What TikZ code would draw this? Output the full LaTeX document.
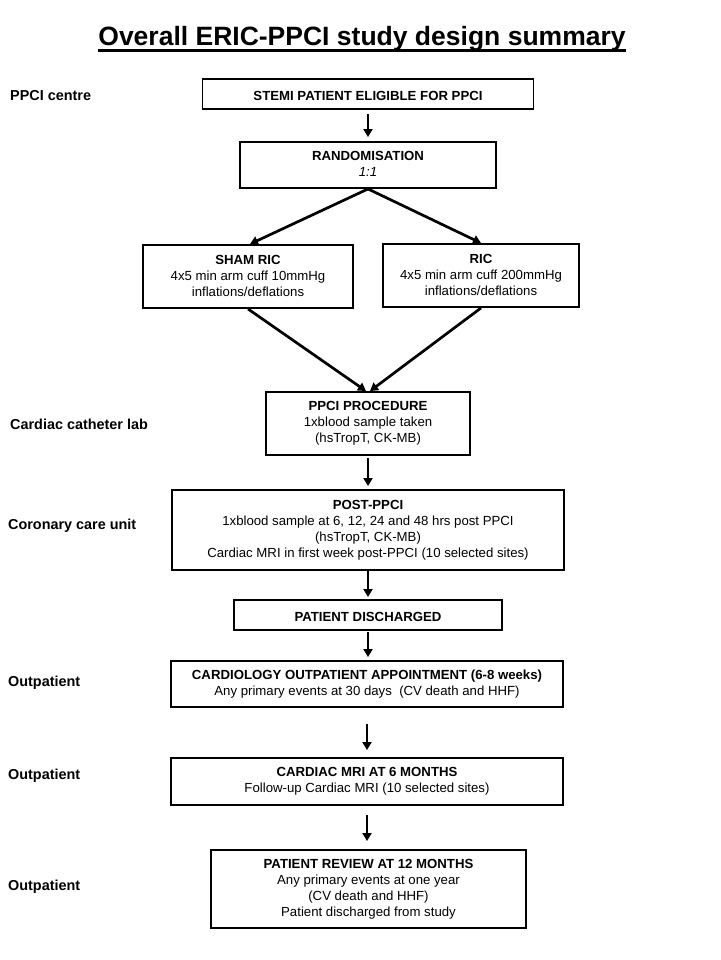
\documentclass[tikz,border=0pt]{standalone}
\usepackage{fontspec}
\setmainfont{Liberation Sans}
\usetikzlibrary{arrows.meta}
\begin{document}
\begin{tikzpicture}[x=1pt,y=-1pt,
  box/.style={draw, line width=1.9pt, align=center, inner sep=0pt,
    font=\fontsize{13.2}{16}\selectfont,
    execute at begin node={\rule{0pt}{14.5pt}},
    execute at end node={\rule[-1.5pt]{0pt}{1.5pt}}},
  arr/.style={line width=2.7pt, -{Triangle[length=8pt,width=9pt]}},
  side/.style={anchor=west, inner sep=0pt, font=\fontsize{14.4}{17}\selectfont\bfseries}]
\useasboundingbox[fill=white] (0,0) rectangle (720,960);

% title
\node[anchor=base, inner sep=0pt, font=\fontsize{26.5}{30}\selectfont\bfseries] (title) at (362,45.5)
  {Overall ERIC-PPCI study design summary};
\draw[line width=2.2pt] ([yshift=-5pt]title.base west) -- ([yshift=-5pt]title.base east);

% boxes
\node[box, minimum width=331, minimum height=30] (stemi) at (368,94) {\textbf{STEMI PATIENT ELIGIBLE FOR PPCI}};
\node[box, minimum width=256, minimum height=46] (rand) at (368,165) {\textbf{RANDOMISATION}\\\textit{1:1}};
\node[box, minimum width=210, minimum height=63] (sham) at (248,276.5)
  {\textbf{SHAM RIC}\\4x5 min arm cuff 10mmHg\\inflations/deflations};
\node[box, minimum width=196, minimum height=63] (ric) at (481,275.5)
  {\textbf{RIC}\\4x5 min arm cuff 200mmHg\\inflations/deflations};
\node[box, minimum width=204, minimum height=63] (ppci) at (368,423.5)
  {\textbf{PPCI PROCEDURE}\\1xblood sample taken\\(hsTropT, CK-MB)};
\node[box, minimum width=392, minimum height=80] (post) at (368,530)
  {\textbf{POST-PPCI}\\1xblood sample at 6, 12, 24 and 48 hrs post PPCI\\(hsTropT, CK-MB)\\Cardiac MRI in first week post-PPCI (10 selected sites)};
\node[box, minimum width=268, minimum height=30] (disch) at (368,615) {\textbf{PATIENT DISCHARGED}};
\node[box, minimum width=392, minimum height=46] (cardio) at (367,684)
  {\textbf{CARDIOLOGY OUTPATIENT APPOINTMENT (6-8 weeks)}\\Any primary events at 30 days\ \ (CV death and HHF)};
\node[box, minimum width=392, minimum height=47] (mri) at (367,781.5)
  {\textbf{CARDIAC MRI AT 6 MONTHS}\\Follow-up Cardiac MRI (10 selected sites)};
\node[box, minimum width=315, minimum height=78] (review) at (368.5,889)
  {\textbf{PATIENT REVIEW AT 12 MONTHS}\\Any primary events at one year\\(CV death and HHF)\\Patient discharged from study};

% side labels
\node[side] (l1) at (10,96) {PPCI centre};
\node[side] (l2) at (10,424) {Cardiac catheter lab};
\node[side] (l3) at (8,526) {Coronary care unit};
\node[side] (l4) at (8,683) {Outpatient};
\node[side] (l5) at (8,776) {Outpatient};
\node[side] (l6) at (8,887) {Outpatient};

% arrows
\draw[arr, shorten <=4pt, shorten >=4pt] (stemi.south) -- (stemi.south |- rand.north);
\draw[arr] (rand.south) -- ([xshift=2pt]sham.north);
\draw[arr] (rand.south) -- (ric.north);
\draw[arr] (sham.south) -- ([xshift=-2pt]ppci.north);
\draw[arr] (ric.south) -- ([xshift=2pt]ppci.north);
\draw[arr, shorten <=2pt, shorten >=3pt] (ppci.south) -- (ppci.south |- post.north);
\draw[arr, shorten >=2pt] (post.south) -- (post.south |- disch.north);
\draw[arr, shorten <=1pt, shorten >=3pt] (disch.south) -- (disch.south |- cardio.north);
\draw[arr, shorten <=16pt, shorten >=7pt] (cardio.south) -- (cardio.south |- mri.north);
\draw[arr, shorten <=9pt, shorten >=8pt] (mri.south) -- (mri.south |- review.north);
\end{tikzpicture}
\end{document}
